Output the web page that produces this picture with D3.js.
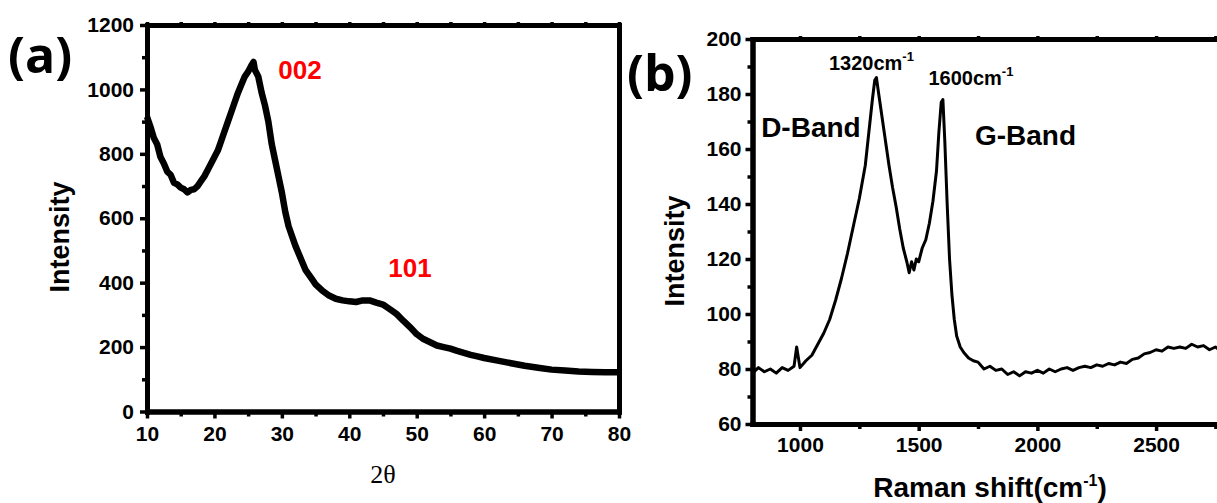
<!DOCTYPE html>
<html>
<head>
<meta charset="utf-8">
<script src="https://cdn.jsdelivr.net/npm/d3@7"></script>
<style>
  body { margin: 0; background: #fff; }
  svg { display: block; }
  .tick text { font-family: "Liberation Sans", Arial, sans-serif; font-weight: bold; fill: #000; }
  .lbl { font-family: "Liberation Sans", Arial, sans-serif; font-weight: bold; fill: #000; }
</style>
</head>
<body>
<svg id="chart"></svg>
<script>
// ---- data ----
// (a) XRD pattern
const xrdTheta = [10, 10.5, 11, 11.5, 12, 12.5, 13, 13.5, 14, 14.5, 15, 15.5, 16, 16.5, 17, 17.5, 18, 18.5, 19, 19.5,
  20, 20.5, 21, 21.5, 22, 22.5, 23, 23.5, 24, 24.5, 25, 25.5, 25.8, 26, 26.5, 27, 27.5, 28, 28.5, 29, 29.5,
  30, 30.5, 31, 31.5, 32, 32.5, 33, 33.5, 34, 34.5, 35, 36, 37, 38, 39, 40, 41, 42, 43, 44, 45, 46, 47, 48, 49,
  50, 51, 52, 53, 54, 55, 56, 57, 58, 59, 60, 62, 64, 66, 68, 70, 72, 74, 76, 78, 80];
const xrdIntensity = [915, 885, 850, 830, 790, 770, 745, 735, 710, 705, 695, 690, 680, 688, 690, 700, 715, 730, 750, 770,
  790, 810, 840, 870, 900, 930, 960, 990, 1015, 1040, 1055, 1075, 1085, 1060, 1040, 990, 950, 900, 830, 780, 730,
  680, 620, 575, 545, 515, 490, 465, 440, 425, 410, 395, 375, 360, 350, 345, 342, 340, 345, 345, 338, 332, 318, 303, 282, 262,
  240, 225, 215, 205, 200, 195, 188, 182, 176, 171, 166, 158, 150, 142, 136, 130, 127, 124, 123, 122, 122];
const xrdXTicks = [10, 20, 30, 40, 50, 60, 70, 80];
const xrdXMinor = [15, 25, 35, 45, 55, 65, 75];
const xrdYTicks = [0, 200, 400, 600, 800, 1000, 1200];
const xrdYMinor = [100, 300, 500, 700, 900, 1100];
const xrdPeaks = [{ label: "002", x: 32.7, y: 1032 }, { label: "101", x: 49, y: 418 }];

// (b) Raman spectrum
const ramanShift = [800, 825, 850, 875, 900, 925, 950, 975, 986, 1000, 1025, 1050, 1075, 1100, 1125, 1150, 1175, 1200,
  1225, 1250, 1275, 1290, 1305, 1315, 1322, 1330, 1345, 1360, 1375, 1390, 1405, 1420, 1435, 1450, 1460, 1470, 1480,
  1490, 1500, 1515, 1530, 1545, 1560, 1575, 1585, 1595, 1602, 1610, 1620, 1630, 1640, 1650, 1660, 1675, 1690, 1710,
  1730, 1750, 1775, 1800, 1825, 1850, 1875, 1900, 1925, 1950, 1975, 2000, 2025, 2050, 2075, 2100, 2125, 2150, 2175,
  2200, 2225, 2250, 2275, 2300, 2325, 2350, 2375, 2400, 2425, 2450, 2475, 2500, 2525, 2550, 2575, 2600, 2625, 2650,
  2675, 2700, 2725, 2750, 2775];
const ramanIntensity = [78.5, 80.5, 79, 80, 78.5, 80.5, 79.5, 81, 88, 80.5, 83, 85, 89, 93, 98, 105, 113, 122,
  132, 142, 154, 166, 178, 185, 186, 181, 172, 163, 154, 146, 139, 131, 124, 119, 115, 119, 116,
  120, 119, 124, 127, 133, 141, 152, 166, 177, 178, 163, 140, 120, 107, 98, 92, 88, 86, 84,
  83, 82.5, 80, 81, 79.5, 80, 78, 79, 77.5, 79, 78.5, 79.5, 78.5, 80, 79, 80, 80.5, 79.5, 80.5,
  81, 80.5, 81.5, 81, 82, 81.5, 82.5, 82, 83.5, 84, 85.5, 86, 87, 86.5, 88, 87.5, 88, 87.5, 89,
  88, 88.5, 87, 88, 86.5];
const ramanXTicks = [1000, 1500, 2000, 2500];
const ramanXMinor = [1250, 1750, 2250, 2750];
const ramanYTicks = [60, 80, 100, 120, 140, 160, 180, 200];
const ramanYMinor = [70, 90, 110, 130, 150, 170, 190];
const ramanPeaks = [{ num: "1320", x: 1301, y: 188.7 }, { num: "1600", x: 1720, y: 183.3 }];
const ramanBands = [{ label: "D-Band", x: 1046, y: 164.4 }, { label: "G-Band", x: 1950, y: 161.5 }];

// ---- layout ----
const width = 1217;
const height = 503;
const svg = d3.select('svg#chart').attr('width', width).attr('height', height);

// thick Origin-style axis lines
function thick(g) {
  g.selectAll('path.domain').attr('stroke', '#000').attr('stroke-width', 5).attr('stroke-linecap', 'square');
  g.selectAll('g.tick line').attr('stroke', '#000').attr('stroke-width', 3.5);
}

function drawFrame(x, y, o) {
  const [x0, x1] = x.range();
  const [y0, y1] = y.range();

  // top and right frame lines
  svg.append('g').attr('transform', 'translate(0,' + y1 + ')')
    .call(d3.axisTop(x).tickValues(o.xTicks.concat(o.xMinor)).tickSize(3).tickSizeOuter(0).tickFormat(''))
    .call(thick);
  if (o.rightFrame) {
    svg.append('g').attr('transform', 'translate(' + x1 + ',0)')
      .call(d3.axisRight(y).tickValues([]).tickSizeOuter(0))
      .call(thick);
  }

  // minor ticks
  svg.append('g').attr('transform', 'translate(0,' + y0 + ')')
    .call(d3.axisBottom(x).tickValues(o.xMinor).tickSize(5).tickSizeOuter(0).tickFormat(''))
    .call(thick);
  svg.append('g').attr('transform', 'translate(' + x0 + ',0)')
    .call(d3.axisLeft(y).tickValues(o.yMinor).tickSize(5).tickSizeOuter(0).tickFormat(''))
    .call(thick);

  // major ticks + labels
  const xa = svg.append('g').attr('transform', 'translate(0,' + y0 + ')')
    .call(d3.axisBottom(x).tickValues(o.xTicks).tickSize(7).tickPadding(o.xPad).tickSizeOuter(0).tickFormat(d3.format('d')))
    .call(thick);
  xa.selectAll('.tick text').style('font-size', '21px');
  const ya = svg.append('g').attr('transform', 'translate(' + x0 + ',0)')
    .call(d3.axisLeft(y).tickValues(o.yTicks).tickSize(7).tickPadding(o.yPad).tickSizeOuter(0).tickFormat(d3.format('d')))
    .call(thick);
  ya.selectAll('.tick text').style('font-size', '21px');
}

// ---- panel (a) ----
const xA = d3.scaleLinear().domain([10, 80]).range([147, 619]);
const yA = d3.scaleLinear().domain([0, 1200]).range([411.5, 25]);

svg.append('path')
  .datum(xrdTheta.map((t, i) => [t, xrdIntensity[i]]))
  .attr('fill', 'none').attr('stroke', '#000').attr('stroke-width', 6.5).attr('stroke-linejoin', 'round')
  .attr('d', d3.line().x(d => xA(d[0])).y(d => yA(d[1])));

drawFrame(xA, yA, { xTicks: xrdXTicks, xMinor: xrdXMinor, yTicks: xrdYTicks, yMinor: xrdYMinor, xPad: 8, yPad: 6, rightFrame: true });

svg.append('text').attr('class', 'lbl')
  .attr('transform', 'translate(69,237) rotate(-90)').attr('text-anchor', 'middle')
  .style('font-size', '27px').text('Intensity');
svg.append('text')
  .attr('x', 383).attr('y', 483).attr('text-anchor', 'middle')
  .style('font-family', '"Liberation Serif", "Times New Roman", serif').style('font-size', '26px')
  .text('2θ');

svg.selectAll('text.peak-a').data(xrdPeaks).enter().append('text').attr('class', 'lbl peak-a')
  .attr('x', d => xA(d.x)).attr('y', d => yA(d.y)).attr('text-anchor', 'middle')
  .style('font-size', '26px').style('fill', '#ff0000').text(d => d.label);

svg.append('text')
  .attr('x', 8).attr('y', 73)
  .style('font-family', '"Open Sans", "Noto Sans", sans-serif').style('font-weight', 'bold').style('font-size', '50px')
  .text('(a)');

// ---- panel (b) ----
const xB = d3.scaleLinear().domain([800, 2800]).range([752.5, 752.5 + 2000 * 0.2374]);
const yB = d3.scaleLinear().domain([60, 200]).range([424, 39]);

svg.append('path')
  .datum(ramanShift.map((s, i) => [s, ramanIntensity[i]]))
  .attr('fill', 'none').attr('stroke', '#000').attr('stroke-width', 3).attr('stroke-linejoin', 'round')
  .attr('d', d3.line().x(d => xB(d[0])).y(d => yB(d[1])));

drawFrame(xB, yB, { xTicks: ramanXTicks, xMinor: ramanXMinor, yTicks: ramanYTicks, yMinor: ramanYMinor, xPad: 6, yPad: 4, rightFrame: false });

svg.append('text').attr('class', 'lbl')
  .attr('transform', 'translate(684,251) rotate(-90)').attr('text-anchor', 'middle')
  .style('font-size', '27px').text('Intensity');

const xl = svg.append('text').attr('class', 'lbl')
  .attr('x', 990).attr('y', 497).attr('text-anchor', 'middle').style('font-size', '28px');
xl.append('tspan').text('Raman shift(cm');
xl.append('tspan').attr('dy', -11).style('font-size', '16px').text('-1');
xl.append('tspan').attr('dy', 11).text(')');

ramanPeaks.forEach(p => {
  const t = svg.append('text').attr('class', 'lbl')
    .attr('x', xB(p.x)).attr('y', yB(p.y)).attr('text-anchor', 'middle').style('font-size', '20px');
  t.append('tspan').text(p.num + 'cm');
  t.append('tspan').attr('dy', -9).style('font-size', '13px').text('-1');
});

svg.selectAll('text.band').data(ramanBands).enter().append('text').attr('class', 'lbl band')
  .attr('x', d => xB(d.x)).attr('y', d => yB(d.y)).attr('text-anchor', 'middle')
  .style('font-size', '28px').text(d => d.label);

svg.append('text')
  .attr('x', 627).attr('y', 91)
  .style('font-family', '"Open Sans", "Noto Sans", sans-serif').style('font-weight', 'bold').style('font-size', '50px')
  .text('(b)');
</script>
</body>
</html>
